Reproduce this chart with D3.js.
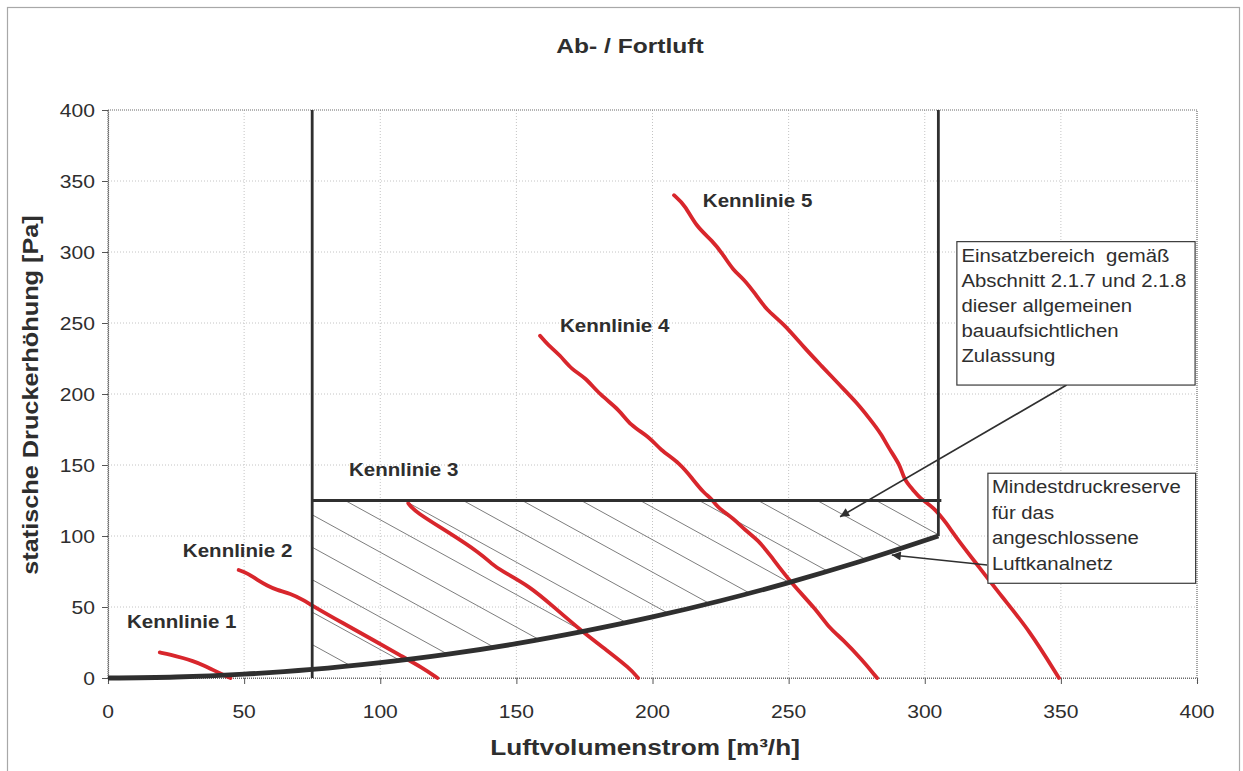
<!DOCTYPE html>
<html>
<head>
<meta charset="utf-8">
<script src="https://cdn.jsdelivr.net/npm/d3@7"></script>
<style>
  html, body { margin: 0; padding: 0; background: #fff; }
  svg { display: block; }
  text { font-family: "Liberation Sans", Arial, Helvetica, sans-serif; fill: #2e2e2e; white-space: pre; }
</style>
</head>
<body>
<svg id="chart" width="1243" height="771"></svg>
<script>
// ---------------- DATA ----------------
const title = "Ab- / Fortluft";
const xTitle = "Luftvolumenstrom [m³/h]";
const yTitle = "statische Druckerhöhung [Pa]";
const xTicks = [0, 50, 100, 150, 200, 250, 300, 350, 400];
const yTicks = [0, 50, 100, 150, 200, 250, 300, 350, 400];

// Fan characteristic curves (Kennlinien): [volume flow m³/h, pressure Pa]
const kennlinie1 = [[19, 18], [23, 16.5], [27.7, 14], [31, 12], [35, 9.2], [41, 3.3], [45, 0]];
const kennlinie2 = [[48, 76], [51, 74], [55, 69], [58.5, 65], [62, 62], [67, 59.5], [71.7, 55], [75.4, 50.5],
  [86.4, 38.5], [97.4, 26.8], [107.3, 16], [115.7, 7], [121, 0]];
const kennlinie3 = [[110.3, 123], [112.8, 117], [125.6, 102], [136.6, 88], [141.5, 79.6], [144, 76], [155, 64.5],
  [163.6, 50.2], [174, 33], [183.1, 19.7], [191.7, 6.8], [194.7, 0]];
const kennlinie4 = [[158.7, 241], [161.6, 234.5], [166, 227.5], [170.4, 217], [175.2, 212], [180.7, 199.3],
  [188, 188.7], [191.7, 178], [199, 169.7], [202.8, 160.6], [210, 151.4], [215, 139.4], [219, 130],
  [221.7, 126.5], [223.5, 120.6], [230, 112], [234, 104], [238.8, 97.2], [243.2, 86.6], [250.5, 67.8],
  [260.3, 47.9], [264.5, 36], [270, 27], [277, 12.7], [282.5, 0]];
const kennlinie5 = [[207.9, 340], [212, 333], [216, 318], [222, 308], [226, 298], [229.7, 287], [233.3, 281.5],
  [238, 270], [241.9, 259], [248, 250], [256, 232], [262, 220], [268.9, 206], [275, 194], [280, 182],
  [284, 172], [287, 161], [291, 150], [292.4, 139.4], [295.8, 132.4], [298.2, 126.5], [303.1, 120.6],
  [308, 109], [311.7, 98.4], [320, 78], [328.4, 57], [338.3, 34], [349.3, 0]];
const kennlinien = [kennlinie1, kennlinie2, kennlinie3, kennlinie4, kennlinie5];
const kennlinieNames = ["Kennlinie 1", "Kennlinie 2", "Kennlinie 3", "Kennlinie 4", "Kennlinie 5"];
const kennlinieLabelPos = [[7, 35.5], [27.5, 85], [88.5, 142], [166, 244], [218.5, 332]];

// Duct system curve (Anlagenkennlinie)
const systemCurve = [[0, 0], [25, 0.7], [50, 2.7], [75, 6], [100, 10.8], [125, 16.8], [150, 24.2], [175, 33],
  [200, 43], [225, 54.4], [250, 67.2], [275, 81.3], [305, 100]];

// Operating range limits
const rangeMinFlow = 75;
const rangeMaxFlow = 305;
const reserveTop = 125;
const rangeMaxFlowCurveP = 100;

// Annotations
const note1Lines = ["Einsatzbereich  gemäß", "Abschnitt 2.1.7 und 2.1.8", "dieser allgemeinen", "bauaufsichtlichen", "Zulassung"];
const note1Box = [311.8, 307.3, 399.3, 206.3];   // x1, yTop, x2, yBottom (data units)
const note1Arrow = [[352.1, 206.3], [268.9, 113.6]];
const note2Lines = ["Mindestdruckreserve", "für das", "angeschlossene", "Luftkanalnetz"];
const note2Box = [323.2, 144.2, 399.5, 66.7];
const note2Arrow = [[322.9, 79.6], [287.9, 86.6]];

// ---------------- CHART ----------------
const svg = d3.select("#chart");
const x = d3.scaleLinear().domain([0, 400]).range([108, 1197]);
const y = d3.scaleLinear().domain([0, 400]).range([678, 110]);
const SX = 1.14;   // horizontal stretch of the scanned typography
const dark = "#2f2f2f";
const red = "#d8262c";

function txt(g, px, py, str, opt) {
  const t = g.append("text")
    .attr("transform", `translate(${px},${py})${opt.rotate ? " rotate(" + opt.rotate + ")" : ""} scale(${opt.sx || SX},1)`)
    .attr("text-anchor", opt.anchor || "start")
    .style("font-size", opt.size + "px")
    .style("font-weight", opt.weight || "normal")
    .text(str);
  return t;
}

// outer frame
svg.append("rect").attr("x", 7.5).attr("y", 7.5).attr("width", 1232).attr("height", 800)
  .attr("fill", "none").attr("stroke", "#a8a8a8").attr("stroke-width", 1.2);

// grid
const grid = svg.append("g");
grid.selectAll(".gx").data(xTicks.slice(1, -1)).join("line")
  .attr("x1", d => x(d)).attr("x2", d => x(d)).attr("y1", y(0)).attr("y2", y(400))
  .attr("stroke", "#c4c4c4").attr("stroke-width", 1).attr("stroke-dasharray", "1,2");
grid.selectAll(".gy").data(yTicks.slice(1, -1)).join("line")
  .attr("y1", d => y(d)).attr("y2", d => y(d)).attr("x1", x(0)).attr("x2", x(400))
  .attr("stroke", "#c4c4c4").attr("stroke-width", 1).attr("stroke-dasharray", "1,2");
// plot border (dotted)
svg.append("rect").attr("x", x(0)).attr("y", y(400)).attr("width", x(400) - x(0)).attr("height", y(0) - y(400))
  .attr("fill", "none").attr("stroke", "#6a6a6a").attr("stroke-width", 1.2).attr("stroke-dasharray", "1,1");

// axes
const xAxis = svg.append("g").attr("transform", `translate(0,${y(0)})`)
  .call(d3.axisBottom(x).tickValues(xTicks).tickSize(6).tickFormat(d3.format("d")));
const yAxis = svg.append("g").attr("transform", `translate(${x(0)},0)`)
  .call(d3.axisLeft(y).tickValues(yTicks).tickSize(6).tickFormat(d3.format("d")));
[xAxis, yAxis].forEach(a => {
  a.select(".domain").attr("stroke", "#6a6a6a").attr("stroke-dasharray", "1,1").attr("stroke-width", 1.2);
  a.selectAll(".tick line").attr("stroke", "#555");
  a.selectAll(".tick text").remove();
});
xTicks.forEach(v => txt(svg, x(v), 718, String(v), { size: 18.5, anchor: "middle" }));
yTicks.forEach(v => txt(svg, 95, y(v) + 6.5, String(v), { size: 18.5, anchor: "end" }));

// hatch region
const defs = svg.append("defs");
const regionPts = [[rangeMinFlow, reserveTop], [rangeMaxFlow, reserveTop]]
  .concat(systemCurve.filter(p => p[0] >= rangeMinFlow).slice().reverse());
defs.append("clipPath").attr("id", "hatchClip").append("path")
  .attr("d", d3.line().x(p => x(p[0])).y(p => y(p[1]))(regionPts) + "Z");
const hatchG = svg.append("g").attr("clip-path", "url(#hatchClip)");
const hatchSlope = 0.55, hatchStep = 59, hatchOffset = 33;
const hx0 = x(rangeMinFlow) + hatchOffset, hy0 = y(reserveTop);
for (let k = -12; k <= 12; k++) {
  const cx = hx0 + k * hatchStep;
  hatchG.append("line")
    .attr("x1", cx - 600).attr("y1", hy0 - 600 * hatchSlope)
    .attr("x2", cx + 600).attr("y2", hy0 + 600 * hatchSlope)
    .attr("stroke", "#6e6e6e").attr("stroke-width", 0.9);
}

// Kennlinien
const kl = d3.line().x(p => x(p[0])).y(p => y(p[1])).curve(d3.curveBasis);
svg.append("g").selectAll("path").data(kennlinien).join("path")
  .attr("d", kl).attr("fill", "none").attr("stroke", red).attr("stroke-width", 3.8)
  .attr("stroke-linecap", "round").attr("stroke-linejoin", "round");

// limit lines
const lim = svg.append("g").attr("stroke", dark).attr("stroke-width", 2.8);
lim.append("line").attr("x1", x(rangeMinFlow)).attr("x2", x(rangeMinFlow)).attr("y1", y(0)).attr("y2", y(400));
lim.append("line").attr("x1", x(rangeMaxFlow)).attr("x2", x(rangeMaxFlow)).attr("y1", y(400)).attr("y2", y(rangeMaxFlowCurveP));
lim.append("line").attr("x1", x(rangeMinFlow)).attr("x2", x(rangeMaxFlow) + 3).attr("y1", y(reserveTop)).attr("y2", y(reserveTop));

// system curve
svg.append("path").datum(systemCurve)
  .attr("d", d3.line().x(p => x(p[0])).y(p => y(p[1])).curve(d3.curveMonotoneX))
  .attr("fill", "none").attr("stroke", dark).attr("stroke-width", 4.8).attr("stroke-linecap", "butt");

// Kennlinie labels
kennlinieNames.forEach((n, i) => {
  txt(svg, x(kennlinieLabelPos[i][0]), y(kennlinieLabelPos[i][1]), n, { size: 18, weight: "bold" });
});

// annotations
defs.append("marker").attr("id", "arrow").attr("viewBox", "0 0 10 10").attr("refX", 10).attr("refY", 5)
  .attr("markerWidth", 13).attr("markerHeight", 9).attr("markerUnits", "userSpaceOnUse").attr("orient", "auto")
  .append("path").attr("d", "M0,0 L10,5 L0,10 Z").attr("fill", dark);

function note(box, lines, arrow, firstBase, step, padL) {
  svg.append("line")
    .attr("x1", x(arrow[0][0])).attr("y1", y(arrow[0][1]))
    .attr("x2", x(arrow[1][0])).attr("y2", y(arrow[1][1]))
    .attr("stroke", dark).attr("stroke-width", 1.6).attr("marker-end", "url(#arrow)");
  svg.append("rect").attr("x", x(box[0])).attr("y", y(box[1]))
    .attr("width", x(box[2]) - x(box[0])).attr("height", y(box[3]) - y(box[1]))
    .attr("fill", "#fff").attr("stroke", "#3a3a3a").attr("stroke-width", 1.2);
  lines.forEach((l, i) => txt(svg, x(box[0]) + padL, y(box[1]) + firstBase + i * step, l, { size: 18.5, sx: 1.1 }));
}
note(note1Box, note1Lines, note1Arrow, 20, 25, 4.5);
note(note2Box, note2Lines, note2Arrow, 20, 25.6, 4);

// titles
txt(svg, 630, 53, title, { size: 21, weight: "bold", anchor: "middle", sx: 1.17 });
txt(svg, 645, 755, xTitle, { size: 22, weight: "bold", anchor: "middle", sx: 1.19 });
txt(svg, 38, 395, yTitle, { size: 22, weight: "bold", anchor: "middle", rotate: -90, sx: 1.15 });
</script>
</body>
</html>
